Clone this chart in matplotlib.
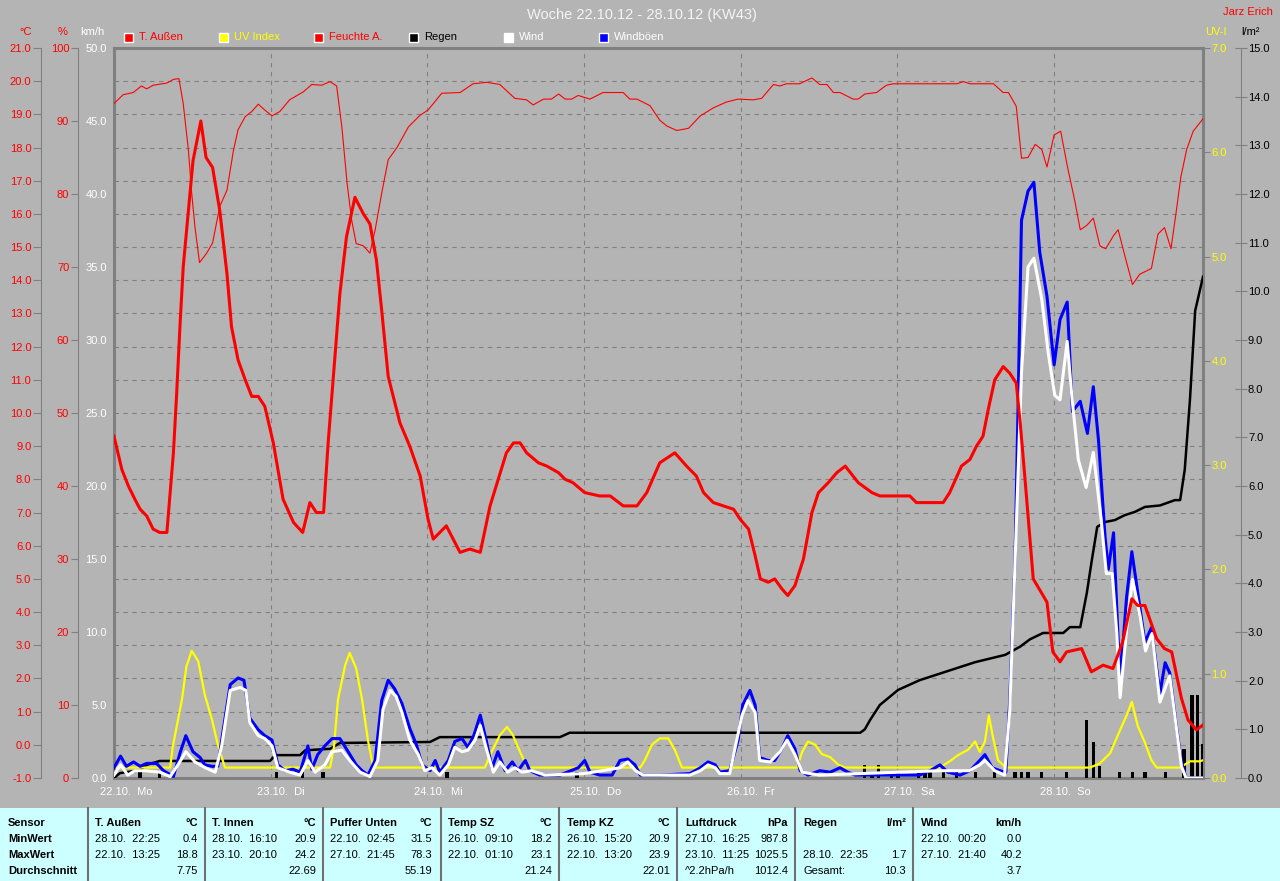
import matplotlib
matplotlib.use('Agg')
import matplotlib.pyplot as plt
from matplotlib.patches import Rectangle
from matplotlib.lines import Line2D
import matplotlib.transforms as mtransforms

plt.rcParams['font.family'] = ['Liberation Sans', 'DejaVu Sans']
plt.rcParams['font.size'] = 8

# ---- Daten (Stunde seit 22.10. 00:00, Wert) ----
days = ['22.10.  Mo', '23.10.  Di', '24.10.  Mi', '25.10.  Do', '26.10.  Fr', '27.10.  Sa', '28.10.  So']

temp_pts = [(0.0, 9.3), (1.2, 8.3), (2.2, 7.8), (3.2, 7.4), (4.0, 7.1), (5.0, 6.9), (6.0, 6.5), (7.0, 6.4),
            (8.1, 6.4), (8.6, 7.6), (9.1, 8.8), (9.6, 10.6), (10.1, 12.6), (10.6, 14.4), (11.4, 16.1),
            (12.1, 17.6), (13.3, 18.8), (14.1, 17.7), (15.1, 17.4), (16.2, 16.1), (17.3, 14.2), (18.0, 12.6),
            (19.0, 11.6), (20.1, 11.0), (21.1, 10.5), (22.1, 10.5), (23.1, 10.2), (24.4, 9.1), (25.9, 7.4),
            (27.5, 6.7), (28.9, 6.4), (30.0, 7.3), (31.0, 7.0), (32.1, 7.0), (32.8, 9.1), (33.6, 11.1),
            (34.6, 13.6), (35.6, 15.3), (36.9, 16.5), (38.2, 16.0), (39.2, 15.7), (40.2, 14.6), (41.0, 13.1),
            (42.0, 11.1), (43.8, 9.7), (45.3, 9.0), (46.9, 8.1), (48.1, 6.8), (48.9, 6.2), (50.9, 6.6),
            (53.0, 5.8), (54.5, 5.9), (56.1, 5.8), (57.6, 7.2), (60.1, 8.8), (61.2, 9.1), (62.2, 9.1),
            (63.2, 8.8), (65.0, 8.5), (66.3, 8.4), (68.1, 8.2), (69.1, 8.0), (70.3, 7.9), (72.1, 7.6),
            (74.4, 7.5), (76.0, 7.5), (78.0, 7.2), (80.1, 7.2), (81.6, 7.6), (83.6, 8.5), (85.9, 8.8),
            (87.7, 8.4), (89.2, 8.1), (90.3, 7.6), (91.8, 7.3), (94.9, 7.1), (95.9, 6.8), (97.2, 6.5),
            (98.2, 5.7), (99.0, 5.0), (100.2, 4.9), (101.2, 5.0), (102.3, 4.7), (103.2, 4.5), (104.3, 4.8),
            (105.6, 5.6), (106.9, 7.0), (107.9, 7.6), (109.4, 7.9), (110.7, 8.2), (112.0, 8.4), (114.0, 7.9),
            (116.1, 7.6), (117.3, 7.5), (119.1, 7.5), (121.9, 7.5), (122.9, 7.3), (127.0, 7.3), (128.0, 7.6),
            (129.8, 8.4), (131.1, 8.6), (132.1, 9.0), (133.1, 9.3), (133.9, 10.1), (134.9, 11.0),
            (136.2, 11.4), (137.2, 11.2), (138.2, 10.9), (138.8, 9.7), (139.5, 8.1), (140.8, 5.0),
            (142.9, 4.3), (143.8, 2.8), (144.9, 2.5), (145.9, 2.8), (148.2, 2.9), (149.7, 2.2), (151.5, 2.4),
            (153.0, 2.3), (154.5, 3.1), (155.9, 4.4), (156.8, 4.2), (157.9, 4.2), (159.7, 3.2), (160.9, 2.9),
            (162.0, 2.8), (163.5, 1.4), (164.5, 0.75), (165.8, 0.45), (166.8, 0.6)]

hum_pts = [(0.0, 92.4), (1.4, 93.6), (2.95, 93.9), (4.2, 94.8), (5.0, 94.4), (6.0, 94.9), (8.1, 95.2),
           (9.1, 95.7), (9.95, 95.8), (10.6, 92.4), (11.4, 86.0), (11.9, 80.1), (12.4, 75.5), (13.1, 70.6),
           (14.2, 71.9), (15.1, 73.3), (16.2, 78.3), (17.3, 80.5), (18.3, 86.0), (19.0, 88.8), (20.1, 90.6),
           (21.1, 91.3), (22.1, 92.3), (23.1, 91.5), (24.2, 90.7), (25.4, 91.3), (26.9, 92.9), (29.0, 94.0),
           (30.3, 95.0), (31.8, 94.9), (33.1, 95.4), (34.1, 94.8), (34.9, 89.2), (35.7, 81.5), (36.4, 76.4),
           (37.1, 73.2), (38.2, 72.9), (39.2, 71.9), (40.0, 75.1), (41.0, 80.1), (42.0, 84.7), (43.3, 86.3),
           (45.1, 89.2), (46.9, 90.8), (48.1, 91.5), (50.2, 93.8), (53.0, 93.9), (55.0, 95.1), (57.1, 95.3),
           (59.1, 95.0), (61.4, 93.1), (63.2, 92.9), (64.2, 92.2), (65.8, 93.0), (67.0, 93.0), (68.1, 93.7),
           (69.1, 93.0), (70.1, 93.0), (71.1, 93.5), (72.9, 93.0), (74.9, 93.9), (78.0, 93.9), (79.0, 93.0),
           (80.1, 93.0), (82.1, 92.1), (83.6, 90.1), (84.7, 89.3), (86.2, 88.7), (88.0, 89.0), (89.8, 90.7),
           (91.8, 91.8), (93.8, 92.6), (95.6, 93.0), (97.9, 92.9), (99.2, 93.1), (101.0, 95.0), (102.0, 94.8),
           (103.0, 95.1), (105.0, 95.1), (106.9, 95.9), (108.1, 95.0), (109.2, 95.0), (110.2, 93.9),
           (111.2, 93.9), (113.2, 93.0), (114.0, 93.0), (115.0, 93.7), (116.8, 93.9), (118.3, 94.9),
           (119.4, 95.1), (129.1, 95.1), (130.1, 95.4), (131.1, 95.1), (134.7, 95.1), (136.2, 93.9),
           (137.0, 93.9), (138.2, 92.0), (139.0, 84.9), (140.0, 85.0), (141.1, 86.8), (142.1, 86.1),
           (142.9, 83.7), (144.0, 88.1), (145.0, 88.6), (146.0, 83.9), (147.2, 78.9), (148.0, 75.1),
           (149.0, 75.7), (150.0, 76.7), (151.0, 72.9), (151.9, 72.5), (153.1, 74.3), (153.8, 75.1),
           (154.9, 71.3), (156.0, 67.6), (157.1, 69.0), (158.9, 69.8), (159.9, 74.5), (160.9, 75.4),
           (161.9, 72.5), (162.7, 77.6), (163.4, 82.3), (164.3, 86.1), (165.3, 88.6), (166.8, 90.3)]

rain_total_pts = [(0.0, 0.0), (0.9, 0.1), (4.0, 0.16), (5.0, 0.27), (7.0, 0.35), (23.9, 0.35), (24.7, 0.47),
                  (28.5, 0.47), (29.3, 0.57), (33.1, 0.6), (34.6, 0.72), (48.4, 0.74), (49.9, 0.84),
                  (68.3, 0.84), (69.8, 0.93), (114.3, 0.93), (115.0, 1.0), (115.8, 1.19), (117.3, 1.5),
                  (120.1, 1.81), (123.4, 2.01), (127.3, 2.18), (131.9, 2.38), (136.5, 2.53), (138.8, 2.7),
                  (140.3, 2.85), (142.3, 2.98), (145.4, 2.98), (146.4, 3.1), (148.0, 3.1), (149.0, 3.8),
                  (149.8, 4.5), (150.6, 5.16), (151.8, 5.26), (153.3, 5.3), (154.8, 5.4), (156.4, 5.47),
                  (157.9, 5.57), (160.2, 5.6), (162.5, 5.71), (163.3, 5.71), (164.0, 6.33), (164.8, 7.77),
                  (165.6, 9.6), (166.8, 10.3)]

rain_bar_pts = [(4.0, 0.12), (7.0, 0.12), (24.9, 0.12), (28.9, 0.12), (32.0, 0.12), (51.0, 0.12),
                (70.9, 0.12), (115.0, 0.27), (116.1, 0.12), (117.1, 0.27), (119.1, 0.12), (120.1, 0.12),
                (123.2, 0.12), (124.2, 0.12), (125.0, 0.12), (127.0, 0.12), (129.1, 0.12), (131.9, 0.12),
                (134.9, 0.12), (138.0, 0.12), (139.0, 0.12), (140.0, 0.12), (142.1, 0.12), (145.9, 0.12),
                (149.0, 1.2), (150.0, 0.73), (151.0, 0.25), (154.0, 0.12), (156.0, 0.12), (157.9, 0.12),
                (161.0, 0.12), (163.9, 0.6), (165.1, 1.7), (166.0, 1.7), (166.8, 0.7)]

uv_pts = [(0.0, 0.1), (8.6, 0.1), (9.0, 0.3), (10.4, 0.75), (11.1, 1.07), (11.9, 1.22), (12.9, 1.12),
          (13.9, 0.8), (15.0, 0.56), (15.9, 0.32), (17.0, 0.1), (33.1, 0.1), (33.7, 0.3), (34.3, 0.75),
          (35.4, 1.08), (36.1, 1.2), (37.1, 1.05), (38.0, 0.75), (38.9, 0.36), (39.7, 0.1), (56.8, 0.1),
          (57.6, 0.22), (59.1, 0.41), (60.2, 0.49), (61.1, 0.41), (62.2, 0.25), (63.3, 0.1), (80.6, 0.1),
          (81.3, 0.17), (82.4, 0.32), (83.6, 0.38), (84.9, 0.38), (85.9, 0.27), (87.0, 0.1), (104.6, 0.1),
          (105.4, 0.25), (106.3, 0.35), (107.4, 0.32), (108.4, 0.23), (109.7, 0.2), (110.9, 0.13),
          (112.0, 0.1), (126.5, 0.1), (128.0, 0.16), (129.3, 0.22), (130.8, 0.27), (131.9, 0.35),
          (132.6, 0.25), (133.4, 0.35), (134.0, 0.6), (134.6, 0.4), (135.4, 0.17), (136.6, 0.1),
          (149.5, 0.1), (151.0, 0.14), (152.6, 0.24), (154.1, 0.46), (155.1, 0.6), (155.9, 0.73),
          (156.8, 0.5), (157.9, 0.34), (158.9, 0.17), (159.7, 0.1), (163.3, 0.1), (164.8, 0.16),
          (166.3, 0.16), (166.8, 0.17)]

gust_pts = [(0.0, 0.7), (1.0, 1.5), (1.9, 0.8), (3.0, 1.1), (4.0, 0.8), (5.0, 1.0), (6.5, 1.0), (7.6, 0.5),
            (9.1, 0.1), (10.1, 1.7), (11.0, 2.9), (12.1, 1.8), (13.2, 1.4), (13.9, 0.9), (15.0, 0.8),
            (15.9, 0.8), (16.5, 2.6), (17.8, 6.4), (19.0, 6.85), (19.9, 6.7), (20.8, 4.1), (22.1, 3.3),
            (23.1, 2.9), (24.2, 2.6), (25.1, 0.9), (26.2, 0.5), (27.4, 0.6), (28.5, 0.4), (29.7, 2.2),
            (30.3, 0.6), (31.2, 1.6), (32.3, 2.2), (33.4, 2.7), (34.6, 2.7), (35.8, 1.85), (37.1, 0.9),
            (38.0, 0.5), (38.9, 0.2), (40.0, 1.2), (41.0, 5.3), (42.0, 6.7), (43.0, 6.1), (44.1, 5.1),
            (45.3, 3.4), (46.3, 2.3), (47.2, 0.9), (48.4, 0.5), (49.2, 1.2), (49.9, 0.4), (51.2, 1.2),
            (52.2, 2.5), (53.3, 2.7), (54.2, 2.1), (55.1, 2.9), (56.1, 4.3), (57.0, 2.6), (57.9, 0.7),
            (58.8, 1.8), (59.9, 0.5), (61.0, 1.1), (61.9, 0.5), (63.0, 1.2), (63.7, 0.5), (65.2, 0.2),
            (68.3, 0.2), (71.1, 0.7), (72.1, 1.2), (72.9, 0.4), (74.4, 0.2), (76.3, 0.2), (77.5, 1.2),
            (78.7, 1.3), (79.8, 0.9), (80.6, 0.2), (83.6, 0.2), (88.2, 0.3), (89.8, 0.7), (91.0, 1.1),
            (92.1, 0.9), (92.8, 0.4), (94.3, 0.5), (95.6, 2.6), (96.3, 5.0), (97.4, 6.0), (98.2, 5.0),
            (98.9, 1.4), (100.2, 1.2), (101.2, 1.2), (102.3, 2.0), (103.2, 2.9), (104.3, 2.0), (105.1, 0.5),
            (106.3, 0.2), (108.1, 0.5), (109.7, 0.4), (111.2, 0.7), (112.4, 0.4), (113.5, 0.2), (123.4, 0.2),
            (125.0, 0.5), (126.5, 0.9), (127.7, 0.4), (129.6, 0.2), (131.1, 0.5), (132.6, 1.2), (133.4, 1.6),
            (134.5, 0.7), (135.7, 0.5), (136.6, 0.4), (137.2, 5.3), (138.0, 14.8), (138.5, 26.0),
            (139.0, 38.2), (140.0, 40.2), (140.9, 40.8), (141.8, 36.0), (142.9, 33.0), (144.0, 28.3),
            (144.9, 31.4), (146.0, 32.6), (146.8, 25.1), (148.0, 25.8), (149.1, 23.6), (150.0, 26.8),
            (150.8, 23.1), (151.8, 16.5), (152.3, 14.3), (153.1, 16.8), (153.6, 11.5), (154.1, 6.6),
            (155.1, 12.4), (155.9, 15.5), (156.7, 13.0), (157.9, 9.3), (158.9, 10.3), (160.2, 5.8),
            (161.0, 7.9), (161.7, 7.2), (162.7, 3.6), (163.5, 1.1), (164.2, 0.0), (166.8, 0.0)]

wind_pts = [(0.0, 0.2), (1.0, 0.9), (2.1, 0.2), (3.2, 0.5), (4.7, 0.5), (7.0, 0.4), (8.6, 0.1), (9.8, 0.9),
            (11.0, 1.8), (12.4, 1.1), (14.0, 0.7), (15.5, 0.4), (16.5, 2.2), (17.8, 6.0), (19.3, 6.2),
            (20.2, 6.0), (20.8, 3.8), (22.1, 2.9), (23.1, 2.7), (24.2, 2.2), (25.1, 0.7), (26.9, 0.4),
            (28.5, 0.2), (29.7, 1.2), (30.8, 0.4), (32.3, 0.9), (33.4, 1.8), (34.9, 1.9), (36.1, 1.2),
            (37.7, 0.4), (39.2, 0.1), (40.4, 1.2), (41.2, 4.7), (42.3, 6.0), (43.2, 5.6), (44.1, 4.5),
            (45.3, 2.6), (46.6, 1.6), (47.6, 0.5), (48.7, 0.7), (49.9, 0.2), (51.2, 0.9), (52.2, 2.1),
            (53.3, 1.8), (54.2, 1.9), (55.3, 2.6), (56.1, 3.6), (57.1, 1.9), (58.1, 0.4), (59.1, 1.1),
            (60.3, 0.4), (61.4, 0.7), (62.5, 0.4), (64.0, 0.5), (66.0, 0.2), (72.0, 0.3), (77.5, 0.7),
            (78.7, 1.1), (79.9, 0.5), (81.0, 0.2), (88.2, 0.2), (89.8, 0.5), (91.0, 0.9), (92.1, 0.7),
            (92.8, 0.3), (94.3, 0.3), (95.1, 2.0), (96.2, 4.3), (97.1, 5.3), (98.2, 4.5),
            (98.9, 1.2), (100.5, 1.1), (102.0, 1.8), (103.1, 2.6), (104.3, 1.6), (105.4, 0.4), (108.0, 0.2),
            (126.5, 0.5), (131.0, 0.5), (132.6, 0.9), (133.4, 1.2), (134.9, 0.5), (136.4, 0.2), (137.2, 4.6),
            (138.0, 14.6), (139.0, 27.8), (140.0, 35.0), (140.9, 35.6), (142.1, 32.8), (143.1, 29.1),
            (144.1, 26.2), (144.9, 25.9), (146.0, 29.9), (146.7, 26.2), (147.7, 21.8), (148.9, 19.9),
            (150.0, 22.3), (151.2, 17.7), (152.0, 14.0), (152.9, 14.0), (153.6, 9.9), (154.1, 5.5),
            (155.1, 10.2), (156.0, 13.6), (157.2, 11.0), (158.0, 8.7), (159.0, 9.9), (160.2, 5.2),
            (161.7, 7.0), (162.7, 3.5), (163.5, 0.8), (164.2, 0.0), (166.8, 0.0)]

# Tabelle
sensors = ['T. Außen', 'T. Innen', 'Puffer Unten', 'Temp SZ', 'Temp KZ', 'Luftdruck', 'Regen', 'Wind']
units = ['°C', '°C', '°C', '°C', '°C', 'hPa', 'l/m²', 'km/h']
min_when = ['28.10.  22:25', '28.10.  16:10', '22.10.  02:45', '26.10.  09:10', '26.10.  15:20',
            '27.10.  16:25', '', '22.10.  00:20']
min_val = ['0.4', '20.9', '31.5', '18.2', '20.9', '987.8', '', '0.0']
max_when = ['22.10.  13:25', '23.10.  20:10', '27.10.  21:45', '22.10.  01:10', '22.10.  13:20',
            '23.10.  11:25', '28.10.  22:35', '27.10.  21:40']
max_val = ['18.8', '24.2', '78.3', '23.1', '23.9', '1025.5', '1.7', '40.2']
avg_note = ['', '', '', '', '', '^2.2hPa/h', 'Gesamt:', '']
avg_val = ['7.75', '22.69', '55.19', '21.24', '22.01', '1012.4', '10.3', '3.7']

# ---- Layout ----
BG = '#B4B4B4'
FRAME = '#808080'
W, H = 1280, 881
XMAX = 166.8


def fx(x):
    return x / W


def fy(y):
    return 1 - y / H


fig = plt.figure(figsize=(12.8, 8.81), dpi=100, facecolor=BG)
rect = [fx(114), fy(778), 1089 / W, 730 / H]


def new_ax(z):
    a = fig.add_axes(rect, zorder=z)
    a.set_facecolor('none')
    a.set_xlim(0, XMAX)
    a.set_xticks([])
    for s in a.spines.values():
        s.set_visible(False)
    return a


# Hintergrund mit Gitter und Rahmen
ax_bg = new_ax(0)
ax_bg.set_ylim(-1, 21)
ax_bg.set_yticks([])
for v in range(0, 21):
    ax_bg.axhline(v, color=FRAME, lw=0.8, ls=(0, (4, 4)))
for d in range(1, 7):
    ax_bg.axvline(d * 24, color=FRAME, lw=0.8, ls=(0, (4, 4)))
for s in ax_bg.spines.values():
    s.set_visible(True)
    s.set_color(FRAME)
    s.set_linewidth(2.2)

xtr = mtransforms.blended_transform_factory(ax_bg.transData, fig.transFigure)
for i, lab in enumerate(days):
    ax_bg.text(i * 24 - 2.1, fy(792), lab, transform=xtr, color='white', ha='left', va='center')

# Regen (l/m²)
ax_r = new_ax(1)
ax_r.set_ylim(0, 15)
ax_r.spines['right'].set_visible(True)
ax_r.spines['right'].set_position(('axes', (1241 - 114) / 1089))
ax_r.spines['right'].set_color(FRAME)
ax_r.yaxis.tick_right()
ax_r.set_yticks(range(0, 16))
ax_r.set_yticklabels(['%.1f' % v for v in range(0, 16)])
ax_r.tick_params(axis='y', direction='inout', length=8, color=FRAME, labelcolor='black', pad=1)
ax_r.bar([p[0] for p in rain_bar_pts], [p[1] for p in rain_bar_pts], width=0.5, color='black')
ax_r.plot([p[0] for p in rain_total_pts], [p[1] for p in rain_total_pts], color='black', lw=1.8)

# UV Index
ax_uv = new_ax(2)
ax_uv.set_ylim(0, 7)
ax_uv.yaxis.tick_right()
ax_uv.set_yticks(range(0, 8))
ax_uv.set_yticklabels(['%.1f' % v for v in range(0, 8)])
ax_uv.tick_params(axis='y', direction='out', length=5, color=FRAME, labelcolor='#FFFF00', pad=1)
ax_uv.plot([p[0] for p in uv_pts], [p[1] for p in uv_pts], color='#FFFF00', lw=1.6)

# Wind / Böen (km/h)
ax_w = new_ax(3)
ax_w.set_ylim(0, 50)
ax_w.set_yticks(range(0, 51, 5))
ax_w.set_yticklabels(['%.1f' % v for v in range(0, 51, 5)])
ax_w.tick_params(axis='y', length=0, labelcolor='white', pad=5)
ax_w.plot([p[0] for p in gust_pts], [p[1] for p in gust_pts], color='#0000FF', lw=2.2)
ax_w.plot([p[0] for p in wind_pts], [p[1] for p in wind_pts], color='white', lw=2.2)

# Feuchte (%)
ax_h = new_ax(4)
ax_h.set_ylim(0, 100)
ax_h.spines['left'].set_visible(True)
ax_h.spines['left'].set_position(('axes', (77.5 - 114) / 1089))
ax_h.spines['left'].set_color(FRAME)
ax_h.set_yticks(range(0, 101, 10))
ax_h.tick_params(axis='y', direction='out', length=5, color=FRAME, labelcolor='red', pad=1)
ax_h.plot([p[0] for p in hum_pts], [p[1] for p in hum_pts], color='red', lw=0.8)

# Temperatur (°C)
ax_t = new_ax(5)
ax_t.set_ylim(-1, 21)
ax_t.spines['left'].set_visible(True)
ax_t.spines['left'].set_position(('axes', (41 - 114) / 1089))
ax_t.spines['left'].set_color(FRAME)
ax_t.set_yticks(range(-1, 22))
ax_t.set_yticklabels(['%.1f' % v for v in range(-1, 22)])
ax_t.tick_params(axis='y', direction='out', length=6, color=FRAME, labelcolor='red', pad=1)
ax_t.plot([p[0] for p in temp_pts], [p[1] for p in temp_pts], color='red', lw=2.2)

# Kopfzeile
fig.text(fx(642), fy(15), 'Woche 22.10.12 - 28.10.12 (KW43)', color='#F4F4F4', fontsize=10.5,
         ha='center', va='center')
fig.text(fx(1273), fy(12), 'Jarz Erich', color='red', ha='right', va='center')
fig.text(fx(26), fy(32), '°C', color='red', ha='center', va='center')
fig.text(fx(63), fy(32), '%', color='red', ha='center', va='center')
fig.text(fx(92), fy(32), 'km/h', color='white', ha='center', va='center')
fig.text(fx(1205), fy(32), 'UV-I', color='#FFFF00', ha='left', va='center')
fig.text(fx(1241), fy(32), 'l/m²', color='black', ha='left', va='center')

legend = [('T. Außen', 'red', 'red'), ('UV Index', '#FFFF00', '#FFFF00'), ('Feuchte A.', 'red', 'red'),
          ('Regen', 'black', 'black'), ('Wind', 'white', 'white'), ('Windböen', '#0000FF', 'white')]
for i, (name, col, tcol) in enumerate(legend):
    x0 = 124 + i * 95
    fig.patches.append(Rectangle((fx(x0), fy(42)), 9 / W, 9 / H, transform=fig.transFigure,
                                 facecolor=col, edgecolor='white', lw=1))
    fig.text(fx(x0 + 15), fy(37.5), name, color=tcol, ha='left', va='center')

# Tabelle unten
fig.patches.append(Rectangle((0, 0), 1, fy(808), transform=fig.transFigure,
                             facecolor='#CCFFFF', edgecolor='none'))
for x in [88, 205, 323, 441, 559, 677, 795, 913]:
    fig.lines.append(Line2D([fx(x), fx(x)], [fy(808), 0], transform=fig.transFigure,
                            color='#707070', lw=1.5))

rows_y = [822.5, 839, 855, 870.5]
for lab, yy in zip(['Sensor', 'MinWert', 'MaxWert', 'Durchschnitt'], rows_y):
    fig.text(fx(8), fy(yy), lab, fontweight='bold', ha='left', va='center')

col_left = [95, 212, 330, 448, 567, 685, 803, 921]
col_right = [198, 316, 432, 552, 670, 788, 906, 1022]
for i in range(len(sensors)):
    xl, xr = fx(col_left[i]), fx(col_right[i])
    fig.text(xl, fy(rows_y[0]), sensors[i], fontweight='bold', ha='left', va='center')
    fig.text(xr, fy(rows_y[0]), units[i], fontweight='bold', ha='right', va='center')
    fig.text(xl, fy(rows_y[1]), min_when[i], ha='left', va='center')
    fig.text(xr, fy(rows_y[1]), min_val[i], ha='right', va='center')
    fig.text(xl, fy(rows_y[2]), max_when[i], ha='left', va='center')
    fig.text(xr, fy(rows_y[2]), max_val[i], ha='right', va='center')
    fig.text(xl, fy(rows_y[3]), avg_note[i], ha='left', va='center')
    fig.text(xr, fy(rows_y[3]), avg_val[i], ha='right', va='center')

fig.savefig('out.png', dpi=100, facecolor=BG)
